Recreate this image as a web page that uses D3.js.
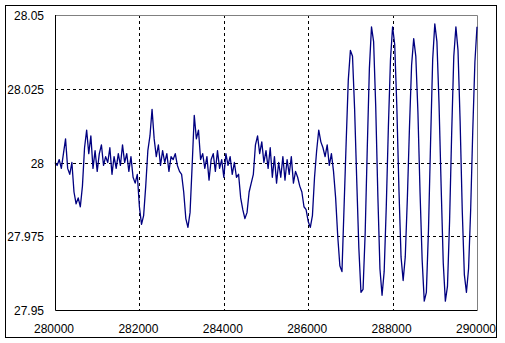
<!DOCTYPE html>
<html>
<head>
<meta charset="utf-8">
<script src="https://cdn.jsdelivr.net/npm/d3@7"></script>
<style>
  body { margin: 0; background: #fff; }
  svg { display: block; font-family: "Liberation Sans", Arial, sans-serif; font-size: 12px; }
  .grid line { stroke: #000; stroke-dasharray: 3,3; shape-rendering: crispEdges; }
</style>
</head>
<body>
<div id="chart"></div>
<script>
// sample positions run from xStart in steps of xStep
const xStart = 280000;
const xStep = 50;
const values = [
  28.000, 27.999, 28.001, 27.998, 28.003, 28.008, 27.998, 27.996, 28.000, 27.990,
  27.986, 27.988, 27.985, 27.992, 28.005, 28.011, 28.003, 28.009, 27.998, 28.004,
  27.997, 28.003, 28.006, 27.999, 28.002, 28.000, 28.005, 27.996, 28.002, 27.998,
  28.003, 27.999, 28.006, 28.000, 28.003, 27.997, 28.002, 27.995, 27.993, 27.996,
  27.985, 27.979, 27.982, 27.992, 28.004, 28.009, 28.018, 28.008, 28.002, 28.006,
  27.999, 28.004, 28.000, 28.003, 27.997, 28.002, 28.001, 28.003, 27.999, 27.997,
  27.996, 27.990, 27.981, 27.978, 27.983, 27.999, 28.016, 28.008, 28.011, 28.001,
  28.003, 27.998, 28.002, 27.994, 28.001, 28.003, 27.997, 28.004, 27.998, 28.001,
  27.995, 28.003, 27.999, 28.002, 27.996, 28.000, 27.995, 27.996, 27.988, 27.984,
  27.981, 27.983, 27.990, 27.993, 27.996, 28.006, 28.009, 28.003, 28.007, 28.000,
  28.004, 27.998, 28.005, 27.995, 28.002, 27.993, 28.000, 27.995, 28.002, 27.994,
  28.001, 27.996, 28.002, 27.993, 27.997, 27.995, 27.992, 27.990, 27.985, 27.984,
  27.980, 27.978, 27.982, 27.995, 28.004, 28.011, 28.007, 28.005, 28.002, 28.006,
  27.999, 28.003, 27.997, 27.988, 27.975, 27.965, 27.963, 27.985, 28.007, 28.028,
  28.038, 28.036, 28.018, 27.994, 27.971, 27.956, 27.957, 27.976, 28.005, 28.032,
  28.046, 28.041, 28.019, 27.989, 27.964, 27.955, 27.963, 27.985, 28.012, 28.035,
  28.046, 28.040, 28.019, 27.991, 27.968, 27.960, 27.968, 27.988, 28.012, 28.033,
  28.042, 28.036, 28.017, 27.990, 27.967, 27.953, 27.956, 27.977, 28.007, 28.035,
  28.047, 28.041, 28.020, 27.992, 27.966, 27.953, 27.958, 27.980, 28.010, 28.036,
  28.046, 28.038, 28.014, 27.984, 27.962, 27.956, 27.964, 27.984, 28.011, 28.034,
  28.046
];
const xTicks = [280000, 282000, 284000, 286000, 288000, 290000];
const yTicks = [27.95, 27.975, 28, 28.025, 28.05];
const yLabels = ["27.95", "27.975", "28", "28.025", "28.05"];

const W = 505, H = 343;
const plot = { left: 55, top: 15, right: 477, bottom: 310 };

const svg = d3.select("#chart").append("svg")
    .attr("width", W)
    .attr("height", H);

// outer frame
svg.append("rect")
    .attr("x", 5.5).attr("y", 5.5)
    .attr("width", 491).attr("height", 332)
    .attr("fill", "#fff")
    .attr("stroke", "#000");

const x = d3.scaleLinear().domain([280000, 290000]).range([plot.left, plot.right]);
const y = d3.scaleLinear().domain([27.95, 28.05]).range([plot.bottom, plot.top]);

const data = values.map((v, i) => ({ x: xStart + i * xStep, y: v }));

// grid lines (inner ticks only)
const grid = svg.append("g").attr("class", "grid");
grid.selectAll(".vg")
    .data(xTicks.slice(1, -1))
    .enter().append("line")
    .attr("x1", d => Math.round(x(d)) + 0.5).attr("x2", d => Math.round(x(d)) + 0.5)
    .attr("y1", plot.top).attr("y2", plot.bottom);
grid.selectAll(".hg")
    .data(yTicks.slice(1, -1))
    .enter().append("line")
    .attr("x1", plot.left).attr("x2", plot.right)
    .attr("y1", d => Math.round(y(d)) + 0.5).attr("y2", d => Math.round(y(d)) + 0.5);

// top and right edges are grey
svg.append("path")
    .attr("d", `M${plot.left},${plot.top + 0.5}H${plot.right + 0.5}V${plot.bottom}`)
    .attr("fill", "none")
    .attr("stroke", "#808080");

// data line
const line = d3.line().x(d => x(d.x)).y(d => y(d.y));
svg.append("path")
    .datum(data)
    .attr("d", line)
    .attr("fill", "none")
    .attr("stroke", "#000080")
    .attr("stroke-width", 1.3)
    .attr("stroke-linejoin", "round");

// left and bottom axes (black)
svg.append("path")
    .attr("d", `M${plot.left + 0.5},${plot.top}V${plot.bottom + 0.5}H${plot.right + 0.5}`)
    .attr("fill", "none")
    .attr("stroke", "#000");

// tick labels
svg.selectAll(".ylab")
    .data(yTicks)
    .enter().append("text")
    .attr("x", 44)
    .attr("y", d => y(d) + 5)
    .attr("text-anchor", "end")
    .text((d, i) => yLabels[i]);

svg.selectAll(".xlab")
    .data(xTicks)
    .enter().append("text")
    .attr("x", d => x(d) - 1)
    .attr("y", 333)
    .attr("text-anchor", "middle")
    .text(d => d3.format("d")(d));
</script>
</body>
</html>
